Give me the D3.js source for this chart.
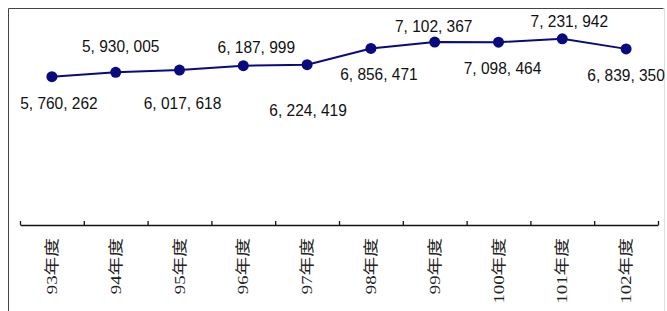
<html>
<head>
  <style>
  body { margin: 0; background: #fff; }
  #chart .val {
    font-family: Arial, "Liberation Sans", sans-serif;
    font-size: 15.5px;
    fill: #111;
    text-anchor: middle;
  }
  #chart .cat {
    font-family: "Liberation Serif", "Noto Sans CJK TC", serif;
    font-size: 15px;
    fill: #222;
    text-anchor: end;
  }
  </style>
  <script src="https://d3js.org/d3.v7.min.js"></script>
</head>
<body>
  <svg id="chart"></svg>
</body>
  <script>
  // data
  var categories = ["93年度", "94年度", "95年度", "96年度", "97年度",
                    "98年度", "99年度", "100年度", "101年度", "102年度"];
  var values = [5760262, 5930005, 6017618, 6187999, 6224419,
                6856471, 7102367, 7098464, 7231942, 6839350];

  // where each value label sits relative to its point (layout only)
  var labelDx = [7, 5, 3, 13, 1, 8, -1, 4, 7, 0];
  var labelDy = [32, -20, 39, -13, 51, 32, -10, 32, -12, 32];

  var width = 667, height = 311;

  var x = d3.scaleLinear()
      .domain([0, categories.length])
      .range([20, 658]);
  var y = d3.scaleLinear()
      .domain([0, 8000000])
      .range([225, 19]);

  var chart = d3.select("#chart")
      .attr("width", width)
      .attr("height", height);

  // frame round the chart (open at the bottom)
  chart.append("path")
      .attr("d", "M8.5," + height + "V8.5H663.5")
      .attr("fill", "none")
      .attr("stroke", "#444")
      .attr("stroke-width", 1);
  chart.append("line")
      .attr("x1", 664.5).attr("x2", 664.5)
      .attr("y1", 8).attr("y2", height)
      .attr("stroke", "#ddd");

  // category axis, ticks between the categories pointing up
  var axis = d3.axisBottom(x)
      .tickValues(d3.range(categories.length + 1))
      .tickSize(-4)
      .tickSizeOuter(0)
      .tickFormat("");
  chart.append("g")
      .attr("transform", "translate(0," + y(0) + ")")
      .call(axis)
      .call(function(g) {
        g.select(".domain").attr("stroke", "#111").attr("stroke-width", 1.3);
        g.selectAll(".tick line").attr("stroke", "#111").attr("stroke-width", 1.3);
      });

  chart.selectAll(".cat")
      .data(categories)
    .enter().append("text")
      .attr("class", "cat")
      .attr("transform", function(d, i) {
        return "translate(" + (x(i + 0.5) + 5) + "," + 238 + ") rotate(-90) scale(1.25,1)";
      })
      .text(function(d) { return d; });

  // the line and its markers
  var line = d3.line()
      .x(function(d, i) { return x(i + 0.5); })
      .y(function(d) { return y(d); });
  chart.append("path")
      .datum(values)
      .attr("d", line)
      .attr("fill", "none")
      .attr("stroke", "#0a0a80")
      .attr("stroke-width", 2);
  chart.selectAll(".dot")
      .data(values)
    .enter().append("circle")
      .attr("class", "dot")
      .attr("cx", function(d, i) { return x(i + 0.5); })
      .attr("cy", function(d) { return y(d); })
      .attr("r", 5.5)
      .attr("fill", "#0a0a80");

  // value labels, thousands separated by ", "
  var fmt = d3.format(",");
  chart.selectAll(".val")
      .data(values)
    .enter().append("text")
      .attr("class", "val")
      .attr("transform", function(d, i) {
        return "translate(" + (x(i + 0.5) + labelDx[i]) + "," + (y(d) + labelDy[i]) + ") scale(1,1.05)";
      })
      .text(function(d) { return fmt(d).replace(/,/g, ", "); });
  </script>
</html>
